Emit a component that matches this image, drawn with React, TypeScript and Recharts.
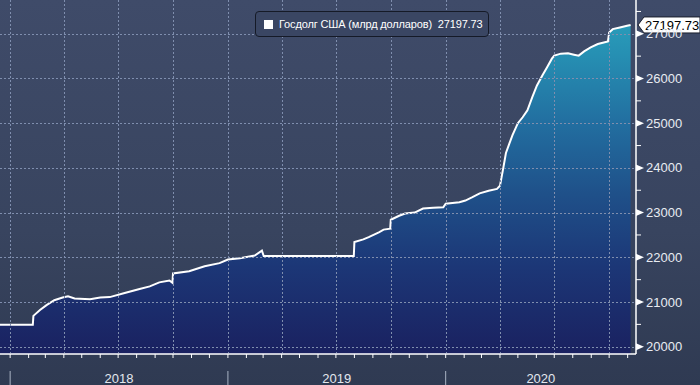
import React from 'react';
import { AreaChart, Area, XAxis, YAxis, ReferenceLine, Legend } from 'recharts';

// ---- data ----
const dates = [
  '2017-12-15', '2018-02-08', '2018-02-09', '2018-02-20', '2018-03-03', '2018-03-16', '2018-03-30',
  '2018-04-08', '2018-04-19', '2018-05-15', '2018-06-01', '2018-06-17', '2018-07-12', '2018-08-06',
  '2018-08-23', '2018-09-08', '2018-09-25', '2018-09-30', '2018-10-01', '2018-10-28', '2018-11-23',
  '2018-12-18', '2019-01-01', '2019-01-21', '2019-02-15', '2019-02-27', '2019-03-02', '2019-07-31',
  '2019-08-01', '2019-08-16', '2019-08-25', '2019-09-11', '2019-09-19', '2019-09-30', '2019-10-01',
  '2019-10-15', '2019-10-25', '2019-11-10', '2019-11-24', '2019-12-11', '2019-12-28', '2020-01-01',
  '2020-01-24', '2020-02-03', '2020-02-14', '2020-02-27', '2020-03-13', '2020-03-27', '2020-04-01',
  '2020-04-06', '2020-04-11', '2020-04-17', '2020-04-22', '2020-05-01', '2020-05-09', '2020-05-17',
  '2020-05-25', '2020-06-02', '2020-06-11', '2020-06-19', '2020-06-27', '2020-07-01', '2020-07-12',
  '2020-07-24', '2020-08-03', '2020-08-11', '2020-08-20', '2020-08-31', '2020-09-12', '2020-09-22',
  '2020-09-29', '2020-10-01', '2020-10-07', '2020-10-19', '2020-10-31', '2020-11-06',
];
const debt = [
  20490, 20490, 20690, 20820, 20930, 21040, 21100,
  21130, 21080, 21060, 21100, 21110, 21200, 21290,
  21350, 21440, 21480, 21430, 21640, 21690, 21800,
  21870, 21950, 21980, 22040, 22150, 22030, 22030,
  22340, 22400, 22450, 22560, 22620, 22640, 22840,
  22930, 22980, 23000, 23090, 23110, 23120, 23200,
  23230, 23270, 23340, 23430, 23490, 23530, 23600,
  23956, 24333, 24556, 24733, 25000, 25133, 25289,
  25578, 25844, 26067, 26251, 26444, 26511, 26556,
  26562, 26533, 26511, 26607, 26696, 26771, 26807,
  26829, 27029, 27104, 27140, 27178, 27197.73,
];
const seriesName = 'Госдолг США (млрд долларов)';
const lastValueText = '27197.73';
const axisStart = '2017-12-15';
const axisEnd = '2020-11-15';
const years = [2018, 2019, 2020];
const yTicks = [20000, 20500, 21000, 21500, 22000, 22500, 23000, 23500, 24000, 24500, 25000, 25500, 26000, 26500, 27000, 27500];
const yDomain = [19837, 27756];

// ---- layout ----
const W = 700;
const H = 385;
const Y_AXIS_W = 64;
const X_AXIS_H = 31;
const PLOT_RIGHT = W - Y_AXIS_W;
const PLOT_BOTTOM = H - X_AXIS_H;
const FONT = '"Liberation Sans", Arial, sans-serif';
const GRID_COLOR = '#7f8eae';

const DAY = 86400000;
const toDay = (s: string) => {
  const [y, m, d] = s.split('-').map(Number);
  return Date.UTC(y, m - 1, d) / DAY;
};
const T0 = toDay(axisStart);
const T1 = toDay(axisEnd);

const data = dates.map((d, i) => ({ t: toDay(d), v: debt[i] }));
const lastValue = debt[debt.length - 1];

const monthTicks: number[] = [];
const quarterSet = new Set<number>();
for (let y = 2017; y <= 2021; y++) {
  for (let m = 0; m < 12; m++) {
    const t = Date.UTC(y, m, 1) / DAY;
    if (t >= T0 && t <= T1) {
      monthTicks.push(t);
      if (m % 3 === 0) quarterSet.add(t);
    }
  }
}
const yearStartSet = new Set(years.map((y) => Date.UTC(y, 0, 1) / DAY));
const yearCenterMap = new Map<number, number>();
years.forEach((y) => {
  const s = Math.max(T0, Date.UTC(y, 0, 1) / DAY);
  const e = Math.min(T1, Date.UTC(y + 1, 0, 1) / DAY);
  yearCenterMap.set((s + e) / 2, y);
});
const xTicks = [...monthTicks, ...Array.from(yearCenterMap.keys())];

const XTick = (props: any) => {
  const { x, payload } = props;
  const v = payload.value;
  if (yearCenterMap.has(v)) {
    return (
      <text x={x} y={H - 2} textAnchor="middle" fill="#e3e7ee" fontSize={13} fontFamily={FONT}>
        {yearCenterMap.get(v)}
      </text>
    );
  }
  const gx = Math.round(x) + 0.5;
  return (
    <g>
      {quarterSet.has(v) && (
        <line x1={gx} x2={gx} y1={0} y2={PLOT_BOTTOM - 1} stroke={GRID_COLOR} strokeWidth={1} strokeDasharray="2 2" />
      )}
      <line x1={x} x2={x} y1={PLOT_BOTTOM} y2={PLOT_BOTTOM + 4} stroke="#ffffff" strokeWidth={1} />
      {yearStartSet.has(v) && (
        <line x1={x} x2={x} y1={PLOT_BOTTOM + 17} y2={H} stroke="#aab3c4" strokeWidth={1} />
      )}
    </g>
  );
};

const YTick = (props: any) => {
  const { y, payload } = props;
  const v = payload.value;
  const x0 = PLOT_RIGHT;
  if (v % 1000 === 0) {
    const gy = Math.round(y) + 0.5;
    return (
      <g>
        <line x1={0} x2={x0 - 1} y1={gy} y2={gy} stroke={GRID_COLOR} strokeWidth={1} strokeDasharray="2 2" />
        <polygon points={`${x0},${y - 3.5} ${x0 + 8},${y} ${x0},${y + 3.5}`} fill="#ffffff" />
        <text x={x0 + 10} y={y + 4.5} fill="#e8ecf2" fontSize={13} fontFamily={FONT}>
          {v}
        </text>
      </g>
    );
  }
  return <line x1={x0} x2={x0 + 5} y1={y} y2={y} stroke="#ffffff" strokeWidth={1} />;
};

const LastLabel = (props: any) => {
  const { viewBox } = props;
  const y = viewBox.y;
  const x0 = PLOT_RIGHT + 2;
  const w = 62;
  const h = 16;
  return (
    <g>
      <polygon
        points={`${x0},${y} ${x0 + 6},${y - h / 2} ${x0 + w},${y - h / 2} ${x0 + w},${y + h / 2} ${x0 + 6},${y + h / 2}`}
        fill="#ffffff"
        stroke="#1a1f2c"
        strokeWidth={1}
      />
      <text x={x0 + 7} y={y + 5} fill="#000000" fontSize={13} fontFamily={FONT}>
        {lastValueText}
      </text>
    </g>
  );
};

const LegendBox = () => (
  <div
    style={{
      display: 'flex',
      alignItems: 'center',
      height: 26,
      padding: '0 6px 0 8px',
      border: '1px solid #151a27',
      borderRadius: 4,
      background: '#3a4663',
      fontFamily: FONT,
      fontSize: 11,
      letterSpacing: -0.15,
      color: '#ffffff',
      whiteSpace: 'pre',
      boxSizing: 'border-box',
    }}
  >
    <span style={{ display: 'inline-block', width: 9, height: 9, background: '#ffffff', marginRight: 6 }} />
    <span>{`${seriesName}  ${lastValueText}`}</span>
  </div>
);

export default function App() {
  return (
    <div
      style={{
        position: 'absolute',
        left: 0,
        top: 0,
        width: W,
        height: H,
        background: 'linear-gradient(180deg, #3f4b69 0%, #38445f 60%, #2f3a52 100%)',
      }}
    >
      <AreaChart width={W} height={H} data={data} margin={{ top: 0, right: 0, bottom: 0, left: 0 }}>
        <defs>
          <linearGradient id="debtFill" x1="0" y1="0" x2="0" y2={PLOT_BOTTOM} gradientUnits="userSpaceOnUse">
            <stop offset="0%" stopColor="#2ca5bf" />
            <stop offset="15%" stopColor="#2690b3" />
            <stop offset="35%" stopColor="#226ea0" />
            <stop offset="55%" stopColor="#1f5089" />
            <stop offset="75%" stopColor="#1c3777" />
            <stop offset="100%" stopColor="#1a2160" />
          </linearGradient>
        </defs>
        <Area
          dataKey="v"
          name={seriesName}
          type="linear"
          stroke="#ffffff"
          strokeWidth={2}
          fill="url(#debtFill)"
          fillOpacity={1}
          isAnimationActive={false}
          dot={false}
          activeDot={false}
        />
        <XAxis
          dataKey="t"
          type="number"
          domain={[T0, T1]}
          ticks={xTicks}
          interval={0}
          height={X_AXIS_H}
          axisLine={{ stroke: '#ffffff', strokeWidth: 1.5 }}
          tickLine={false}
          tick={<XTick />}
          allowDataOverflow
        />
        <YAxis
          orientation="right"
          type="number"
          domain={yDomain}
          ticks={yTicks}
          interval={0}
          width={Y_AXIS_W}
          axisLine={{ stroke: '#ffffff', strokeWidth: 1.5 }}
          tickLine={false}
          tick={<YTick />}
          allowDataOverflow
        />
        <ReferenceLine y={lastValue} stroke="none" ifOverflow="visible" label={<LastLabel />} />
        <Legend
          layout="horizontal"
          align="center"
          verticalAlign="middle"
          wrapperStyle={{ left: 255, top: 11, width: 'auto', height: 'auto' }}
          content={<LegendBox />}
        />
      </AreaChart>
    </div>
  );
}
